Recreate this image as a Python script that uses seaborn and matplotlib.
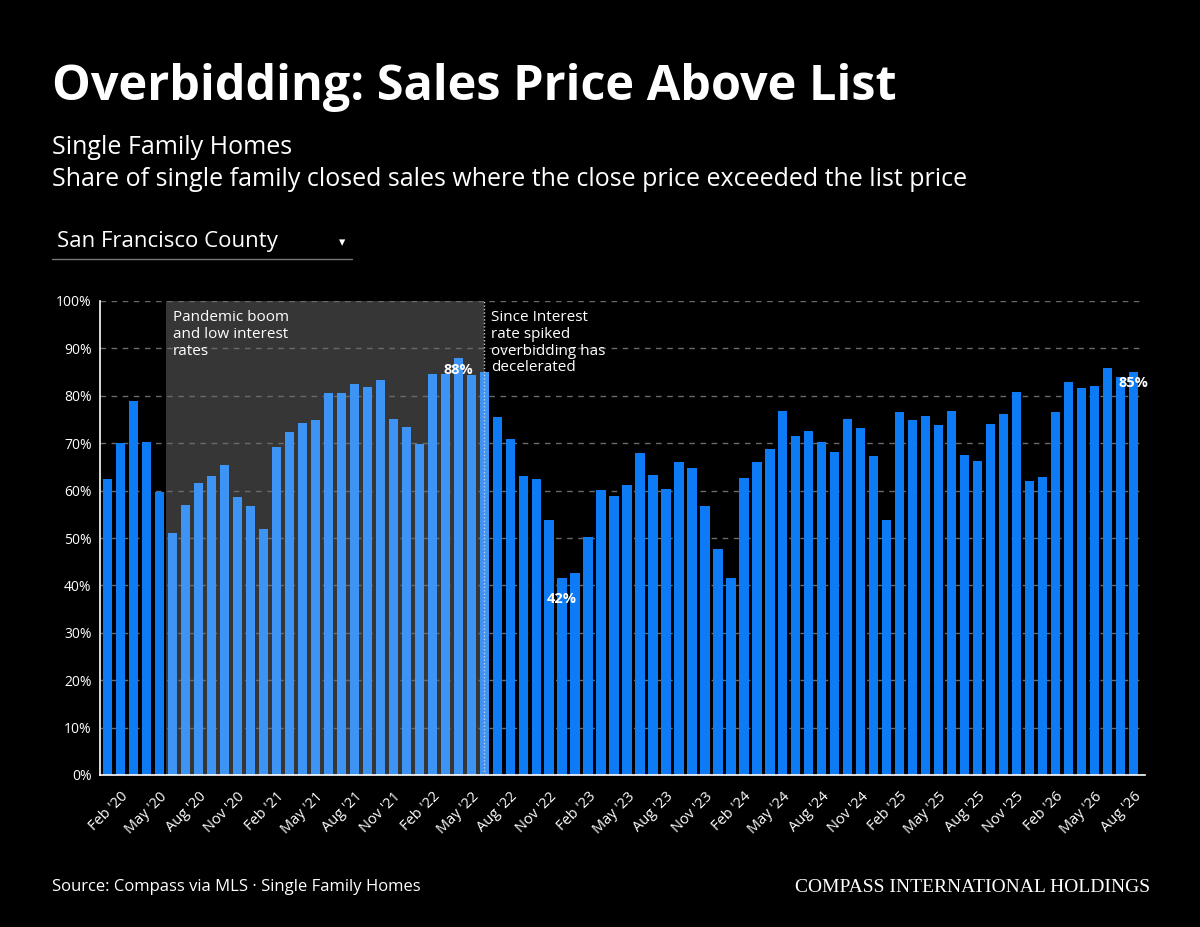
import matplotlib
matplotlib.use("Agg")
import matplotlib.pyplot as plt
import seaborn as sns
import pandas as pd
import numpy as np

months = pd.date_range("2020-01-01", "2026-08-01", freq="MS")
labels = [d.strftime("%b '%y") for d in months]
values = [62.4, 70.1, 78.8, 70.3, 59.8, 51.1, 57.0, 61.7, 63.1, 65.4,
          58.6, 56.8, 52.0, 69.1, 72.3, 74.3, 74.9, 80.5, 80.5, 82.4,
          81.8, 83.3, 75.2, 73.4, 69.8, 84.5, 84.7, 87.9, 84.4, 85.1,
          75.6, 70.9, 63.0, 62.4, 53.9, 41.6, 42.7, 50.3, 60.1, 58.9,
          61.2, 67.9, 63.2, 60.3, 66.1, 64.7, 56.8, 47.7, 41.6, 62.7,
          66.0, 68.7, 76.7, 71.5, 72.6, 70.3, 68.1, 75.2, 73.3, 67.3,
          53.7, 76.5, 75.0, 75.8, 73.9, 76.8, 67.6, 66.3, 74.1, 76.2,
          80.7, 62.1, 62.9, 76.6, 82.9, 81.6, 82.1, 85.9, 83.9, 85.1]
period = ["pre"] * 5 + ["boom"] * 25 + ["post"] * 50
annot = {27: "88%", 35: "42%", 79: "85%"}

colors = {"pre": "#0d7bf5", "boom": "#3d94f5", "post": "#0d7bf5"}

df = pd.DataFrame({"month": labels, "value": values, "period": period})

sns.set_theme(style="dark")
plt.rcParams['font.family'] = ['Open Sans', 'DejaVu Sans']

fig = plt.figure(figsize=(12, 9.27), dpi=100, facecolor="black")
ax = fig.add_axes([100/1200, 1-775/927, 1045/1200, 474/927])
ax.set_facecolor("black")

ax.axvspan(4.5, 29, color="#363636", zorder=0, lw=0)
ax.axvline(29, color="#cccccc", ls=(0, (1, 1.5)), lw=1, zorder=3)

for y in range(10, 101, 10):
    ax.axhline(y, color="#6a6a6a", ls=(0, (4, 4)), lw=1, zorder=0.5)

sns.barplot(data=df, x="month", y="value", hue="period", palette=colors,
            dodge=False, legend=False, width=0.72, ax=ax, zorder=2,
            saturation=1, linewidth=0, edgecolor="none")

for i, t in annot.items():
    y = values[i] - 2.5 if i != 35 else values[i] - 4.5
    ax.text(i, y, t, color="white", ha="center", va="center", fontsize=10.5,
            fontweight="bold", zorder=4)

ax.set_ylim(0, 100)
ax.set_xlim(-0.6, 79.9)
ax.set_yticks(range(0, 101, 10))
ax.set_yticklabels([f"{v}%" for v in range(0, 101, 10)], color="white", fontsize=10)
ticks = list(range(1, 80, 3))
ax.set_xticks(range(80))
ax.set_xticklabels([labels[i] if i in ticks else "" for i in range(80)],
                   rotation=45, ha="right", rotation_mode="anchor",
                   color="white", fontsize=10.5)
ax.tick_params(axis="x", colors="white", length=6, width=1, pad=4)
ax.tick_params(axis="y", length=0, pad=6)
ax.set_xlabel("")
ax.set_ylabel("")
for s in ["top", "right"]:
    ax.spines[s].set_visible(False)
for s in ["left", "bottom"]:
    ax.spines[s].set_color("white")
    ax.spines[s].set_linewidth(1.2)
    ax.spines[s].set_visible(True)

ax.text(5.0, 98, "Pandemic boom\nand low interest\nrates", color="white",
        fontsize=11, va="top", ha="left", linespacing=1.15, zorder=4)
ax.text(29.5, 98, "Since Interest\nrate spiked\noverbidding has\ndecelerated",
        color="white", fontsize=11, va="top", ha="left", linespacing=1.15, zorder=4)

fig.text(52/1200, 1-88/927, "Overbidding: Sales Price Above List", color="white",
         fontsize=35, fontweight="bold", va="center", ha="left")
fig.text(52/1200, 1-147/927, "Single Family Homes", color="white",
         fontsize=18, va="center", ha="left")
fig.text(52/1200, 1-180/927,
         "Share of single family closed sales where the close price exceeded the list price",
         color="white", fontsize=18, va="center", ha="left")
fig.text(57/1200, 1-241/927, "San Francisco County", color="white",
         fontsize=16, va="center", ha="left")
fig.text(342/1200, 1-243/927, "▾", color="white", fontsize=9, va="center",
         ha="center", family="DejaVu Sans")
fig.add_artist(plt.Line2D([52/1200, 352/1200], [1-259/927, 1-259/927],
                          color="#777777", lw=1))
fig.text(52/1200, 1-887/927, "Source: Compass via MLS · Single Family Homes",
         color="white", fontsize=12, va="center", ha="left")
fig.text(1150/1200, 1-887/927, "COMPASS INTERNATIONAL HOLDINGS",
         color="white", fontsize=14, va="center", ha="right",
         family=["Liberation Serif", "DejaVu Serif"])

fig.savefig("out.png", dpi=100, facecolor="black")
